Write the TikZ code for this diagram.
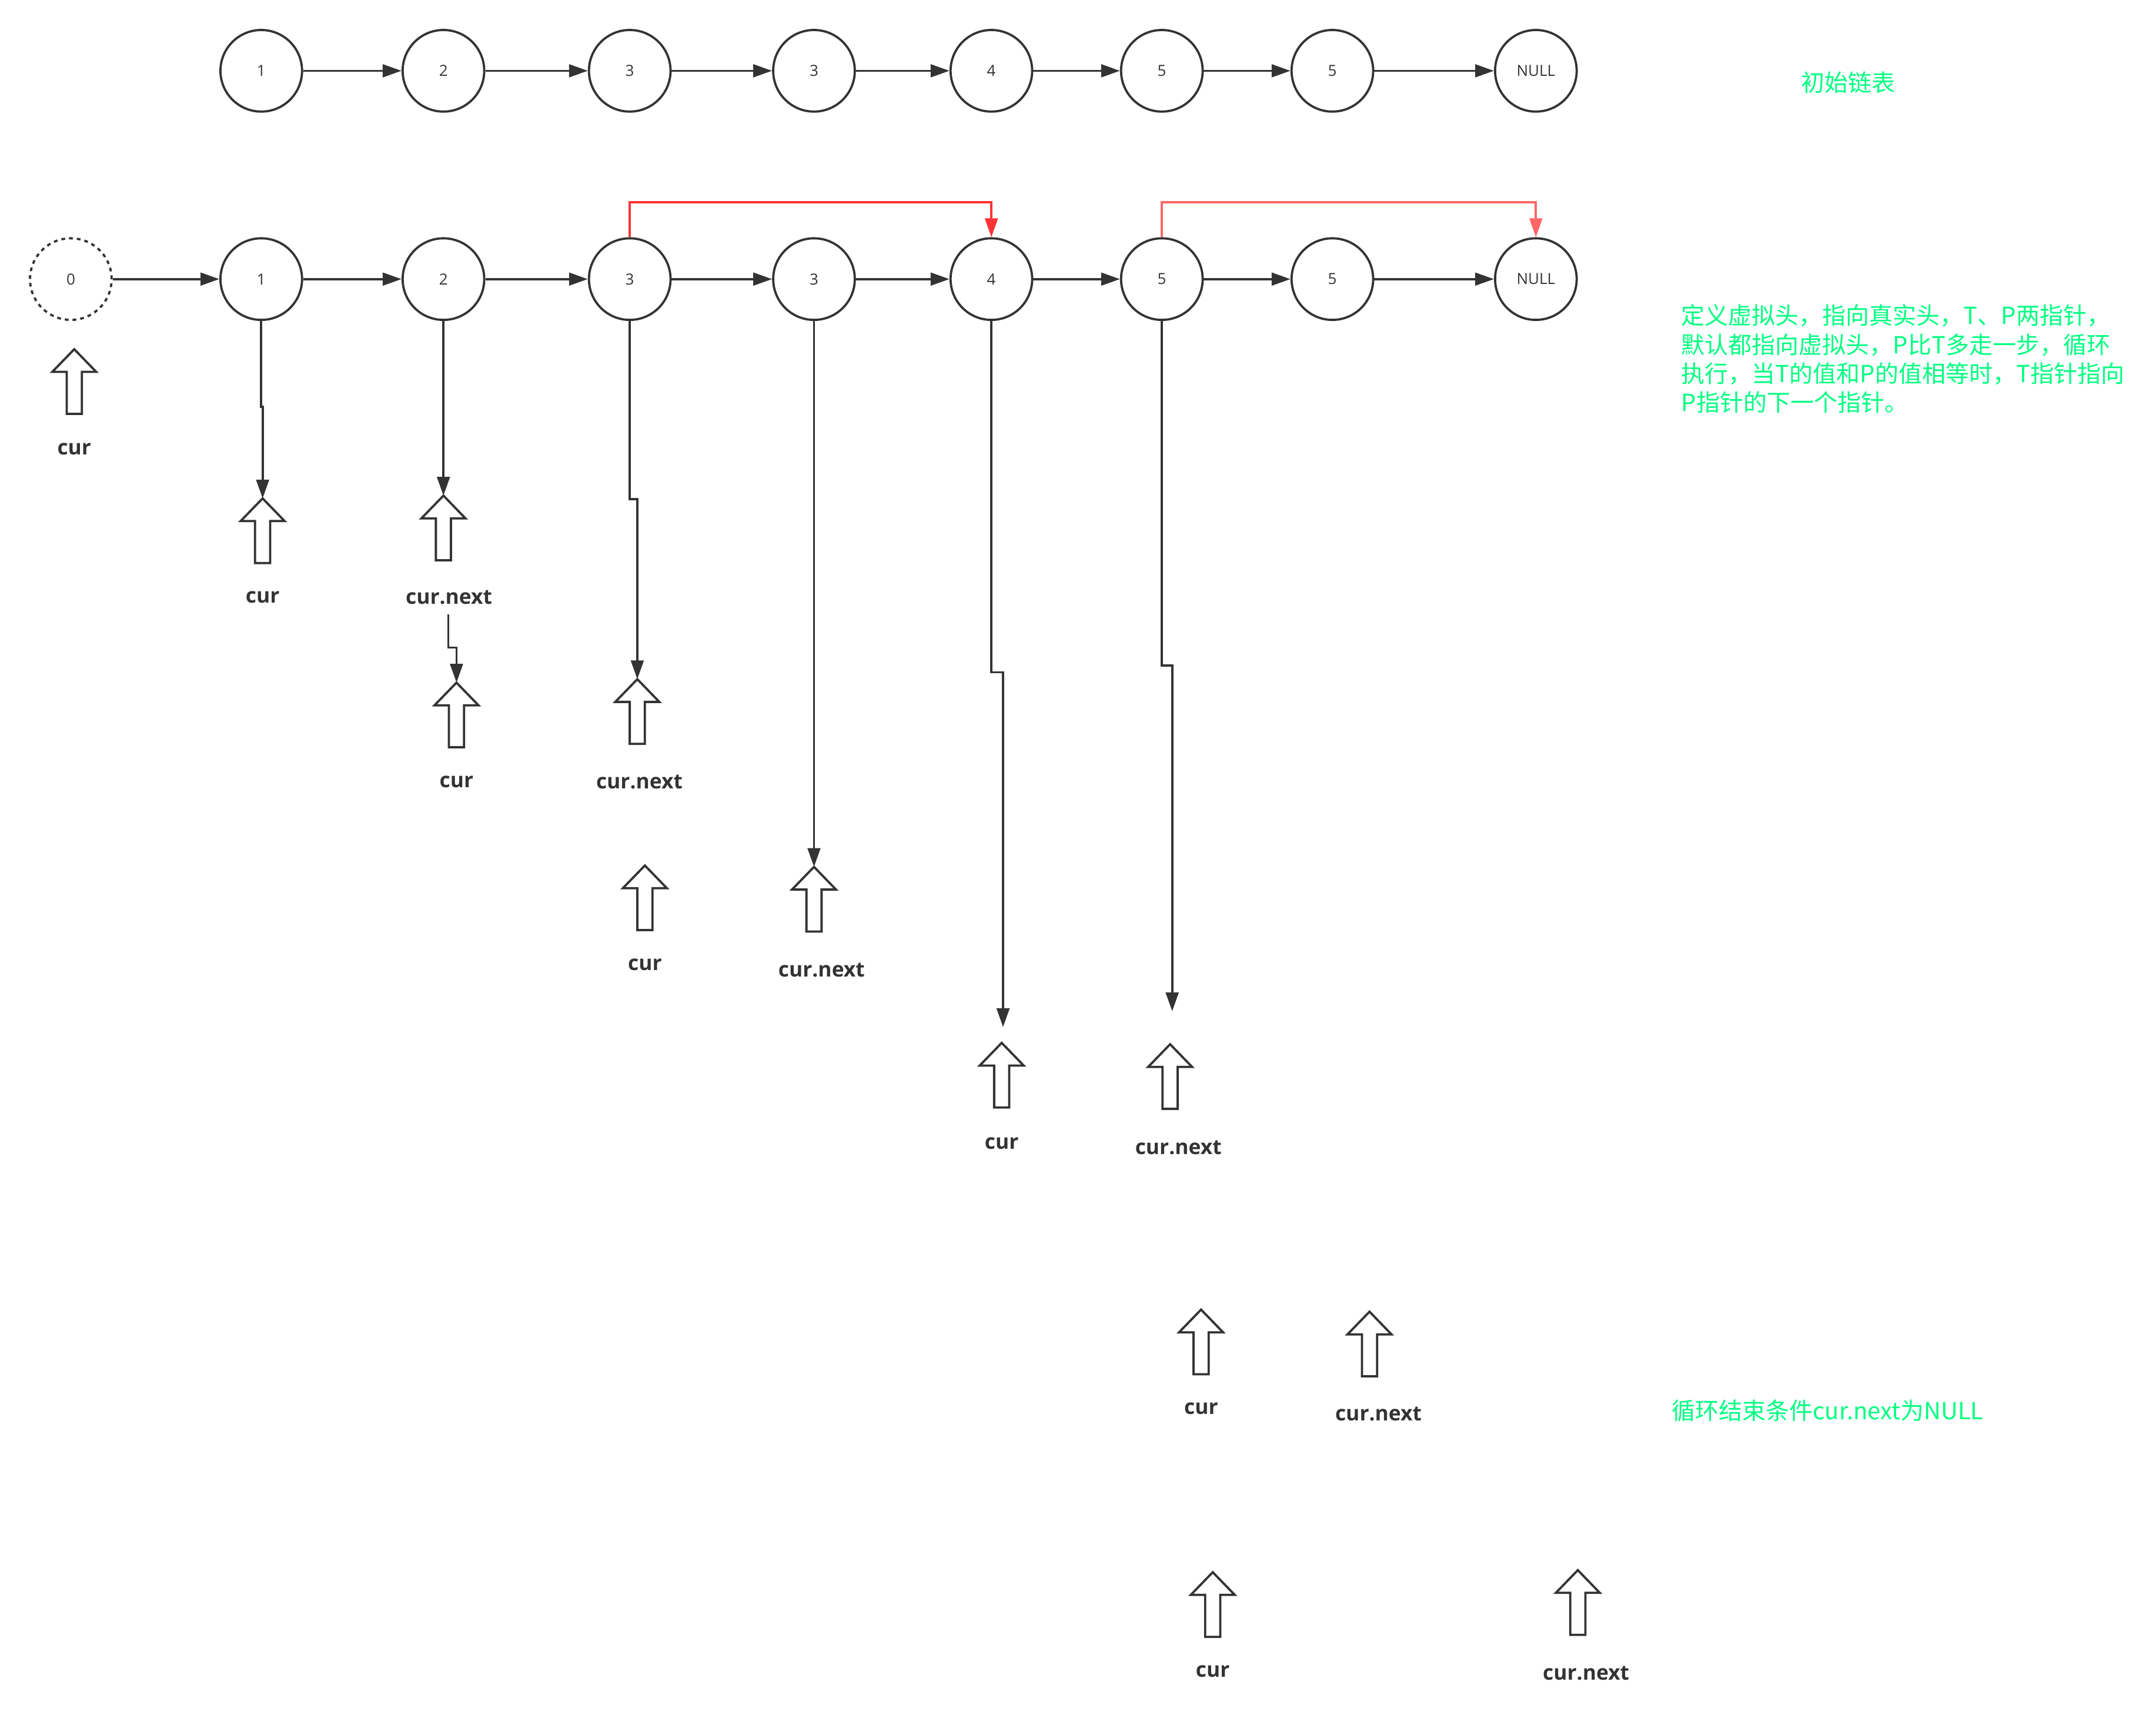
\documentclass[tikz,border=0pt]{standalone}
\usepackage{fontspec}
\usetikzlibrary{arrows.meta}
\newfontfamily\nodefont{Open Sans}
\newfontfamily\cjkfont{Noto Sans CJK SC}
\definecolor{ink}{HTML}{333333}
\definecolor{note}{HTML}{00FF80}
\definecolor{redA}{HTML}{FF3333}
\definecolor{redB}{HTML}{FF6666}
\newcommand{\lowtext}[1]{\raisebox{-0.5pt}{#1}}
\tikzset{
  x=0.5847pt,y=-0.5847pt,
  listnode/.style={circle,draw=ink,line width=0.95pt,minimum size=34.7pt,inner sep=0pt,fill=white,
    text=ink,font=\nodefont\fontsize{6.5}{8}\selectfont},
  virtualnode/.style={listnode,dash pattern=on 1.6pt off 1.7pt},
  conn/.style={draw=ink,line width=0.95pt,-{Triangle[length=8pt,width=5.4pt]}},
  connA/.style={conn,draw=redA},
  connB/.style={conn,draw=redB},
  ptr/.style={draw=ink,line width=0.95pt,fill=white,line join=miter},
  ptrlabel/.style={text=ink,inner sep=0pt,yshift=-0.9pt,font=\nodefont\bfseries\fontsize{8.85}{10}\selectfont},
  notetext/.style={text=note,inner sep=0pt,align=left,font=\cjkfont\fontsize{10}{12.3}\selectfont},
}
\newcommand{\blockptr}[3]{%
  \coordinate (#1) at (#2,#3);
  \draw[ptr] (#1) -- ++(16,16.5) -- ++(-10.5,0) -- ++(0,30.5) -- ++(-11,0) -- ++(0,-30.5) -- ++(-10.5,0) -- cycle;}
\begin{document}
\begin{tikzpicture}
\useasboundingbox (0,0) rectangle (1568,1252.4);
% top row
\node[listnode] (t1) at (190,51.5) {\lowtext{1}};
\node[listnode] (t2) at (322.5,51.5) {\lowtext{2}};
\node[listnode] (t3) at (458,51.5) {\lowtext{3}};
\node[listnode] (t4) at (592,51.5) {\lowtext{3}};
\node[listnode] (t5) at (721,51.5) {\lowtext{4}};
\node[listnode] (t6) at (845,51.5) {\lowtext{5}};
\node[listnode] (t7) at (969,51.5) {\lowtext{5}};
\node[listnode] (t8) at (1117,51.5) {\lowtext{NULL}};
\foreach \a/\b in {t1/t2,t2/t3,t3/t4,t4/t5,t5/t6,t6/t7,t7/t8} \draw[conn] (\a) -- (\b);
% second row
\node[virtualnode] (n0) at (51.5,203) {\lowtext{0}};
\node[listnode] (n1) at (190,203) {\lowtext{1}};
\node[listnode] (n2) at (322.5,203) {\lowtext{2}};
\node[listnode] (n3) at (458,203) {\lowtext{3}};
\node[listnode] (n4) at (592,203) {\lowtext{3}};
\node[listnode] (n5) at (721,203) {\lowtext{4}};
\node[listnode] (n6) at (845,203) {\lowtext{5}};
\node[listnode] (n7) at (969,203) {\lowtext{5}};
\node[listnode] (n8) at (1117,203) {\lowtext{NULL}};
\foreach \a/\b in {n0/n1,n1/n2,n2/n3,n3/n4,n4/n5,n5/n6,n6/n7,n7/n8} \draw[conn] (\a) -- (\b);
\draw[connA] (n3.north) -- (458,147) -- (721,147) -- (n5.north);
\draw[connB] (n6.north) -- (845,147) -- (1117,147) -- (n8.north);
% block pointers
\blockptr{pa}{54}{254}
\blockptr{pb}{191}{362.5}
\blockptr{pc}{322.5}{360.5}
\blockptr{pd}{332}{496.5}
\blockptr{pe}{463.5}{494}
\blockptr{pf}{469}{629.5}
\blockptr{pg}{592}{630.5}
\blockptr{ph}{728.5}{758.5}
\blockptr{pi}{851}{759.5}
\blockptr{pj}{873.5}{952.5}
\blockptr{pk}{996}{954}
\blockptr{pl}{882}{1143.5}
\blockptr{pm}{1147.5}{1142}
% labels
\node[ptrlabel] (la) at (54,325) {cur};
\node[ptrlabel] (lb) at (191,433) {cur};
\node[ptrlabel] (lc) at (326.5,433) {cur.next};
\node[ptrlabel] (ld) at (332,567) {cur};
\node[ptrlabel] (le) at (465,567) {cur.next};
\node[ptrlabel] (lf) at (469,700) {cur};
\node[ptrlabel] (lg) at (597.5,704) {cur.next};
\node[ptrlabel] (lh) at (728.5,830) {cur};
\node[ptrlabel] (li) at (857,833) {cur.next};
\node[ptrlabel] (lj) at (873.5,1023) {cur};
\node[ptrlabel] (lk) at (1002.5,1027) {cur.next};
\node[ptrlabel] (ll) at (882,1214) {cur};
\node[ptrlabel] (lm) at (1153.5,1215.5) {cur.next};
% connectors to pointers
\coordinate (e5) at (729.5,747);
\coordinate (e6) at (852.5,735.5);
\coordinate (s2) at (326,447);
\draw[conn] (n1.south) -- (190,296) -- (191,296) -- (pb);
\draw[conn] (n2.south) -- (pc);
\draw[conn] (s2) -- (326,471) -- (332,471) -- (pd);
\draw[conn] (n3.south) -- (458,363) -- (463.5,363) -- (pe);
\draw[conn] (n4.south) -- (pg);
\draw[conn] (n5.south) -- (721,489) -- (729.5,489) -- (e5);
\draw[conn] (n6.south) -- (845,484) -- (852.5,484) -- (e6);
% notes
\node[notetext,anchor=center] (na) at (1344,60) {初始链表};
\node[notetext,anchor=west] (nb) at (1222.5,261) {定义虚拟头，指向真实头，T、P两指针，\\默认都指向虚拟头，P比T多走一步，循环\\执行，当T的值和P的值相等时，T指针指向\\P指针的下一个指针。};
\node[notetext,anchor=west] (nc) at (1215.5,1026) {循环结束条件cur.next为NULL};
\end{tikzpicture}
\end{document}
